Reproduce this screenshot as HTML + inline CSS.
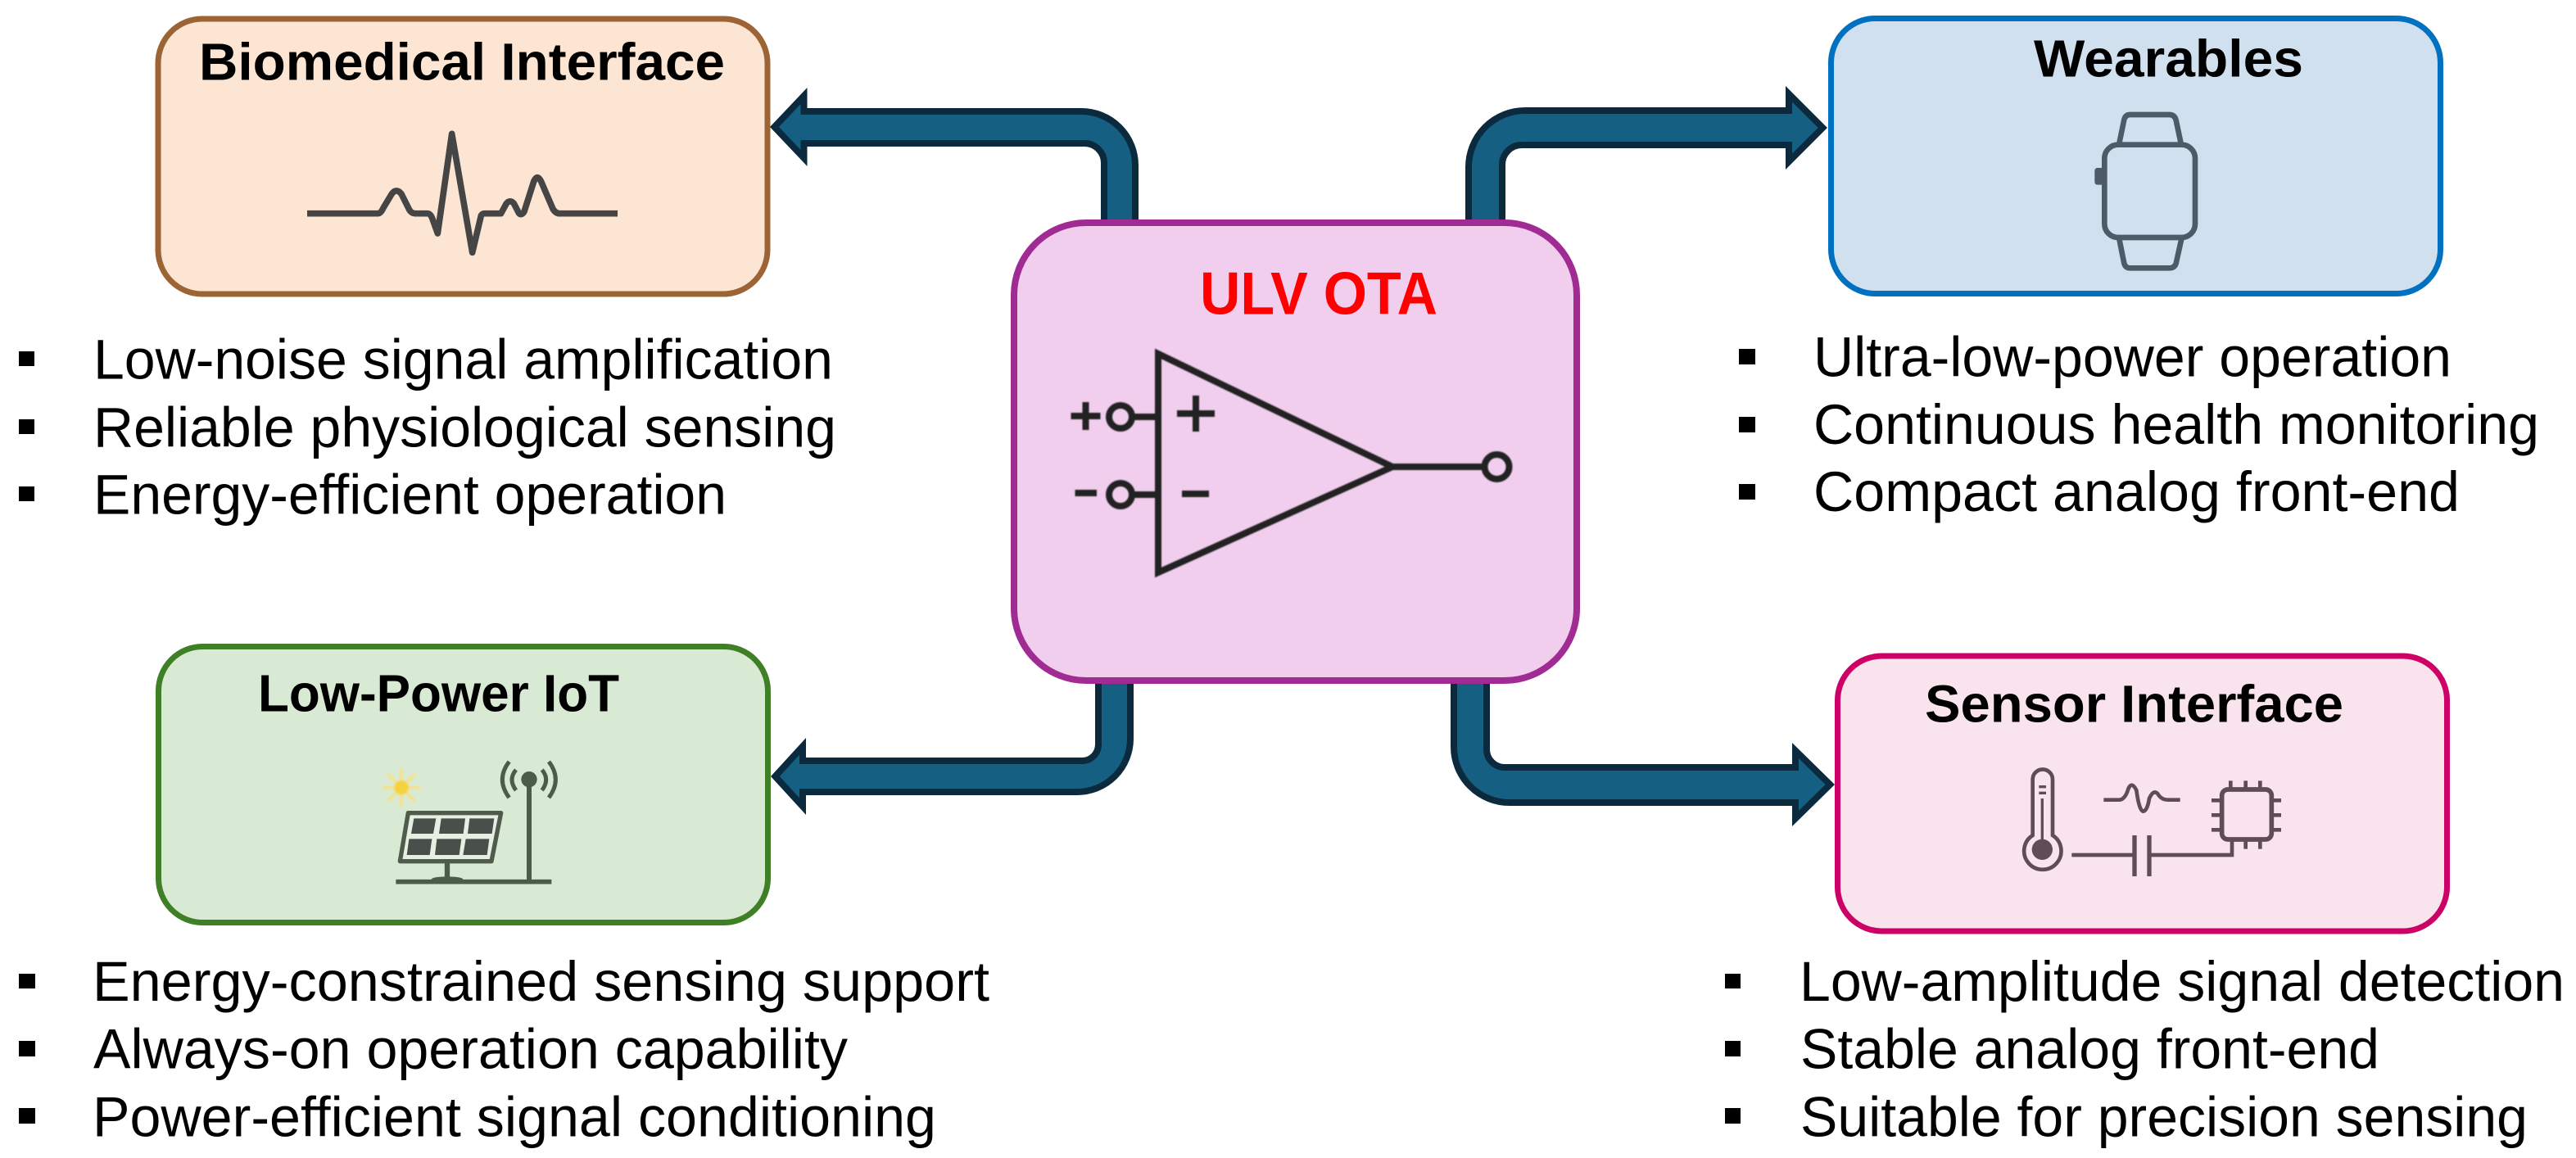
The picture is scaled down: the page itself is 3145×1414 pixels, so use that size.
<!DOCTYPE html>
<html lang="en">
<head>
<meta charset="utf-8">
<title>ULV OTA Applications</title>
<style>
html,body{margin:0;padding:0;background:#fff;width:3145px;height:1414px;overflow:hidden}
svg{display:block}
text{font-family:"Liberation Sans",Arial,sans-serif}
.b{font-size:69px;fill:#000}
.t{font-size:64px;font-weight:700;fill:#000}
.arr{fill:#156082;stroke:#0c2a3e;stroke-width:8;stroke-linejoin:miter;stroke-miterlimit:10}
</style>
</head>
<body>
<svg width="3145" height="1414" viewBox="0 0 3145 1414" xmlns="http://www.w3.org/2000/svg">
<defs>
<filter id="s" x="-5%" y="-5%" width="110%" height="110%"><feGaussianBlur stdDeviation="0.8"/></filter>
<filter id="sun" x="-50%" y="-50%" width="200%" height="200%"><feGaussianBlur stdDeviation="3"/></filter>
</defs>
<rect width="3145" height="1414" fill="#fff"/>

<!-- Arrows -->
<path class="arr" d="M1348 272V199A24 24 0 0 0 1324 175H981.5V193L945.5 155L981.5 117V136H1320A66 66 0 0 1 1386 202V272Z"/>
<path class="arr" d="M1793 272V204A69 69 0 0 1 1862 135H2184V114.7L2225.3 156L2184 197.3V177H1858A24 24 0 0 0 1834 201V272Z"/>
<path class="arr" d="M1341 830V909A20 20 0 0 1 1321 929H980V911.3L946.4 948L980 984.7V967H1315A65 65 0 0 0 1380 902V830Z"/>
<path class="arr" d="M1815 830V915A22 22 0 0 0 1837 937H2192V916.5L2234.3 958L2192 999.5V980H1843A68 68 0 0 1 1775 912V830Z"/>

<!-- Boxes -->
<rect x="193" y="23" width="744" height="336" rx="54" fill="#fde5d3" stroke="#9c6434" stroke-width="7"/>
<rect x="2235.5" y="22.5" width="744" height="336" rx="54" fill="#d0e0ef" stroke="#0070c0" stroke-width="7"/>
<rect x="193.5" y="789.5" width="744" height="337" rx="54" fill="#d9ead4" stroke="#3f7f25" stroke-width="7"/>
<rect x="2243.5" y="801" width="744" height="336" rx="54" fill="#f9e4ee" stroke="#cc0066" stroke-width="7"/>
<rect x="1238" y="272" width="687" height="559" rx="88" fill="#f1ceee" stroke="#a02b93" stroke-width="8"/>

<!-- Titles -->
<text class="t" x="243" y="97.5" textLength="642" lengthAdjust="spacingAndGlyphs">Biomedical Interface</text>
<text class="t" x="2483" y="93.5" textLength="329" lengthAdjust="spacingAndGlyphs">Wearables</text>
<text class="t" x="315" y="868.5" textLength="441" lengthAdjust="spacingAndGlyphs">Low-Power IoT</text>
<text class="t" x="2350" y="881.5" textLength="511" lengthAdjust="spacingAndGlyphs">Sensor Interface</text>
<text x="1465" y="383.5" font-size="73" font-weight="700" fill="#ff0000" textLength="290" lengthAdjust="spacingAndGlyphs">ULV OTA</text>

<!-- ECG -->
<g transform="translate(350 140) scale(.33333)" filter="url(#s)">
<path d="M75 362H335Q345 362 355 340L385 290Q402 268 420 290L450 350Q458 362 470 362H515Q528 362 535 385L553 435L605 70L680 505L712 370Q716 362 725 362H785L805 325Q818 310 832 325L850 360Q860 372 870 355L905 245Q918 215 932 245L975 345Q985 362 1000 362H1212" fill="none" stroke="#444" stroke-width="23" stroke-linejoin="round"/>
</g>

<!-- Watch -->
<g transform="translate(2500 120) scale(.33333)" filter="url(#s)" fill="none" stroke="#4d5a68" stroke-width="20">
<rect x="208" y="170" width="332" height="340" rx="50"/>
<path d="M262 165L280 78Q285 60 302 60H445Q465 60 470 80L488 165"/>
<path d="M262 515L280 605Q285 622 302 622H445Q465 622 470 605L490 515"/>
<rect x="172" y="255" width="34" height="62" rx="10" fill="#4d5a68" stroke="none"/>
</g>

<!-- Solar IoT -->
<g transform="translate(420 910) scale(.33333)">
<g filter="url(#sun)" stroke="#f7e089" stroke-width="11">
<path d="M210 85V225M140 155H280M160 105L260 205M260 105L160 205"/>
<circle cx="210" cy="155" r="26" fill="#f5d23c" stroke="none"/>
</g>
<g filter="url(#s)">
<path d="M235 248H575L540 425H205Z" fill="#e6efe1" stroke="#4f5b4d" stroke-width="16" stroke-linejoin="round"/>
<g fill="#484f4c">
<path d="M256 268H337L327 324H246Z"/><path d="M356 268H444L437 324H348Z"/><path d="M460 268H550L542 324H453Z"/>
<path d="M238 343H322L314 402H230Z"/><path d="M340 343H430L422 402H333Z"/><path d="M446 343H532L524 402H436Z"/>
</g>
<g fill="none" stroke="#4c5c48">
<path d="M378 430V495" stroke-width="19"/>
<path d="M190 500H760" stroke-width="17"/>
<path d="M678 130V500" stroke-width="18"/>
<path d="M630 90Q600 125 630 165M605 60Q555 125 605 192M725 90Q755 125 725 165M750 60Q800 125 750 192" stroke-width="15"/>
</g>
<ellipse cx="378" cy="491" rx="58" ry="10" fill="#4c5c48"/>
<circle cx="678" cy="125" r="29" fill="#4c5c48"/>
</g>
</g>

<!-- Sensor icon -->
<g transform="translate(2430 920) scale(.33333)" filter="url(#s)" fill="none" stroke="#5f4d55" stroke-width="14">
<path d="M155 300V95A36 36 0 0 1 228 95V300A68 68 0 1 1 155 300Z"/>
<circle cx="190" cy="352" r="38" fill="#5f4d55" stroke="none"/>
<path d="M190 165V320M178 122H204M178 145H204" stroke-width="10"/>
<path d="M298 372H528M582 372H885V320"/>
<path d="M528 300V450M582 300V450" stroke-width="16"/>
<path d="M415 170H475Q495 165 505 130Q518 100 535 135Q545 210 560 212Q575 210 582 165Q600 125 618 155Q630 170 650 170H695"/>
<rect x="848" y="132" width="182" height="183" rx="22" stroke-width="17"/>
<path d="M880 100V132M935 100V132M988 100V132M935 315V350M988 315V350M810 172H848M810 226H848M810 280H848M1030 172H1065M1030 226H1065M1030 280H1065"/>
</g>

<!-- Op amp -->
<g filter="url(#s)" fill="none" stroke="#222" stroke-width="8">
<path d="M1414 432L1700 570L1414 699Z" stroke-linejoin="miter" stroke-miterlimit="10"/>
<path d="M1700 570H1812M1382 519H1413" stroke-width="0"/>
<path d="M1700 570H1812M1382 519H1382"/>
<path d="M1382 519" />
<path d="M1382 509H1413M1382 604H1413"/>
<circle cx="1827.5" cy="570" r="15"/>
<circle cx="1368" cy="509" r="14"/>
<circle cx="1368" cy="604" r="14"/>
<path d="M1307.5 508H1343.5M1325.5 491V525M1312.5 602H1339M1437 505H1483M1460 483V527M1443 603H1476"/>
</g>

<!-- Bullets -->
<g fill="#000">
<rect x="23" y="429" width="19" height="18"/><rect x="23" y="512" width="19" height="18"/><rect x="23" y="594" width="19" height="18"/>
<rect x="2123" y="426" width="20" height="19"/><rect x="2123" y="509" width="20" height="19"/><rect x="2123" y="591" width="20" height="19"/>
<rect x="23" y="1189" width="20" height="18"/><rect x="23" y="1271" width="20" height="19"/><rect x="23" y="1353" width="20" height="19"/>
<rect x="2106" y="1189" width="19" height="18"/><rect x="2106" y="1271" width="19" height="19"/><rect x="2106" y="1353" width="19" height="19"/>
</g>

<text class="b" x="114" y="462.5" textLength="903" lengthAdjust="spacingAndGlyphs">Low-noise signal amplification</text>
<text class="b" x="114" y="545.5" textLength="907" lengthAdjust="spacingAndGlyphs">Reliable physiological sensing</text>
<text class="b" x="114" y="627.5" textLength="773" lengthAdjust="spacingAndGlyphs">Energy-efficient operation</text>

<text class="b" x="2214" y="459.5" textLength="779" lengthAdjust="spacingAndGlyphs">Ultra-low-power operation</text>
<text class="b" x="2214" y="542" textLength="886" lengthAdjust="spacingAndGlyphs">Continuous health monitoring</text>
<text class="b" x="2214" y="624" textLength="789" lengthAdjust="spacingAndGlyphs">Compact analog front-end</text>

<text class="b" x="113" y="1222" textLength="1095" lengthAdjust="spacingAndGlyphs">Energy-constrained sensing support</text>
<text class="b" x="114" y="1304.5" textLength="921" lengthAdjust="spacingAndGlyphs">Always-on operation capability</text>
<text class="b" x="113" y="1387.5" textLength="1030" lengthAdjust="spacingAndGlyphs">Power-efficient signal conditioning</text>

<text class="b" x="2197" y="1222" textLength="934" lengthAdjust="spacingAndGlyphs">Low-amplitude signal detection</text>
<text class="b" x="2198" y="1304.5" textLength="707" lengthAdjust="spacingAndGlyphs">Stable analog front-end</text>
<text class="b" x="2198" y="1387.5" textLength="888" lengthAdjust="spacingAndGlyphs">Suitable for precision sensing</text>
</svg>
</body>
</html>
